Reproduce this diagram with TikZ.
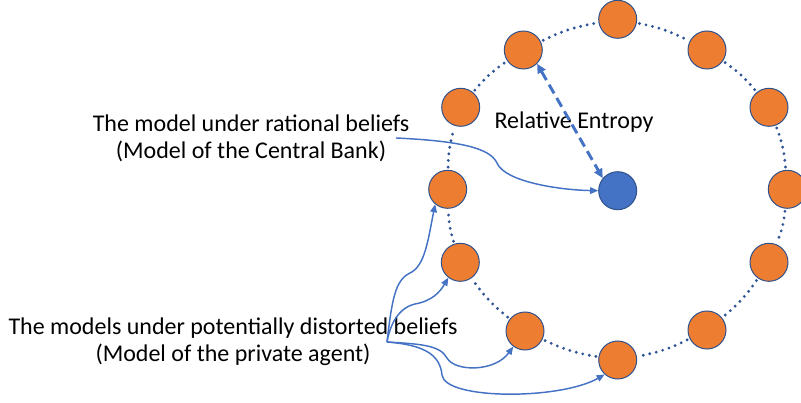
\documentclass[tikz,border=0pt]{standalone}
\usepackage{fontspec}
\setmainfont{Carlito}
\usetikzlibrary{arrows.meta}
\definecolor{accorange}{HTML}{ED7D31}
\definecolor{accblue}{HTML}{4472C4}
\definecolor{rimblue}{HTML}{2F528F}
\definecolor{dotblue}{HTML}{2F5597}
\begin{document}
\begin{tikzpicture}[x=0.75pt, y=-0.75pt,
    model/.style={circle, draw=rimblue, line width=0.75pt, fill=accorange, minimum size=28.5pt, inner sep=0pt},
    ring/.style={dotblue, line width=2.4pt, line cap=round, dash pattern=on 0pt off 5pt, shorten <=2pt, shorten >=2pt},
    link/.style={accblue, line width=1.1pt, -{Triangle[length=6pt,width=5pt]}},
    txt/.style={font=\fontsize{18pt}{20.5pt}\selectfont, align=center, inner sep=0pt}]
    \useasboundingbox (0,0) rectangle (801,403);

    % models on the ring
    \node[model] (v1) at (617.7,19.3) {};
    \node[model] (v2) at (707,50) {};
    \node[model] (v3) at (769,107.3) {};
    \node[model] (v4) at (787.3,189.3) {};
    \node[model] (v5) at (769,262.3) {};
    \node[model] (v6) at (707,330) {};
    \node[model] (v7) at (617.7,360) {};
    \node[model] (v8) at (525,331) {};
    \node[model] (v9) at (460.3,262.3) {};
    \node[model] (v10) at (447.7,189.3) {};
    \node[model] (v11) at (460.7,107.3) {};
    \node[model] (v12) at (523.3,50) {};
    \node[model, fill=accblue] (cb) at (617.7,190.7) {};

    \foreach \a/\b in {v1/v2, v2/v3, v3/v4, v4/v5, v5/v6, v6/v7, v7/v8, v8/v9, v9/v10, v10/v11, v11/v12, v12/v1}
        \draw[ring] (\a) to[bend left=8] (\b);

    % labels
    \node[txt] (t1) at (251,138) {The model under rational beliefs\\(Model of the Central Bank)};
    \node[txt] (t2) at (233,342) {The models under potentially distorted beliefs\\(Model of the private agent)};
    \node[txt] (re) at (574,122) {Relative Entropy};
    \coordinate (src) at (387,342);

    \draw[accblue, line width=2.2pt, dash pattern=on 7.5pt off 4pt, {Triangle[length=7pt,width=6.5pt]}-{Triangle[length=7pt,width=6.5pt]}] (v12.-45) -- (cb.140);

    \draw[link] ([xshift=-10pt]t1.east) .. controls (460,141) and (490,148) .. (497,163)
        .. controls (505,182) and (560,190) .. (cb.west);

    \draw[link] (src) .. controls (392,300) and (395,280) .. (410,273)
        .. controls (425,266) and (428,240) .. (v10.230);
    \draw[link] (src) .. controls (390,325) and (398,308) .. (415,304)
        .. controls (432,301) and (440,292) .. (v9.232);
    \draw[link] (src) .. controls (420,344) and (440,345) .. (447,358)
        .. controls (455,372) and (495,372) .. (v8.233);
    \draw[link] (src) .. controls (425,345) and (440,355) .. (442,375)
        .. controls (445,400) and (560,400) .. (v7.228);
\end{tikzpicture}
\end{document}
